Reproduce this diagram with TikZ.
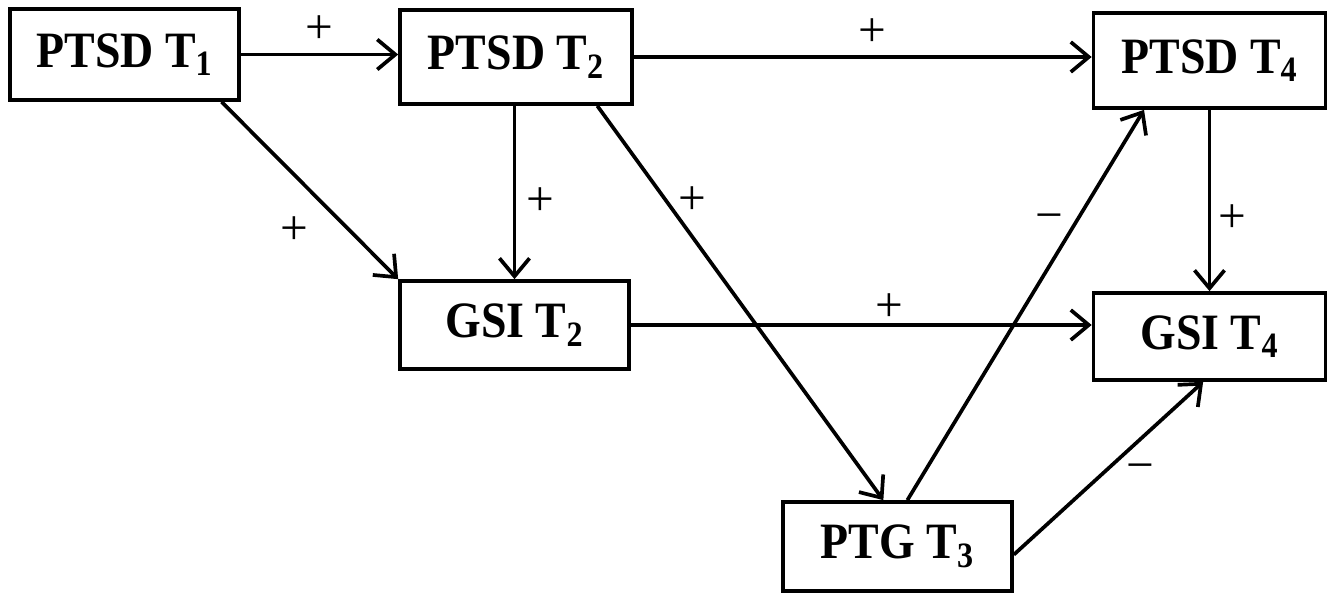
\documentclass[tikz,border=0pt]{standalone}
\usepackage{fontspec}
\setmainfont{Liberation Serif}
\newfontfamily\boxfont[FakeStretch=0.9]{Liberation Serif}
\usetikzlibrary{arrows.meta}
\tikzset{
box/.style={draw, line width=2.1pt, inner sep=0pt, font=\boxfont\fontsize{29}{31}\selectfont\bfseries},
link/.style={line width=2.1pt, -{Straight Barb[length=3.6mm,width=6mm]}},
sgn/.style={inner sep=3pt, font=\fontsize{28}{30}\selectfont}
}
\begin{document}
\begin{tikzpicture}

                \useasboundingbox (0,0) rectangle (26.56,-11.86);

                \node[box, minimum width=4.58cm, minimum height=1.82cm] (ptsdA) at (2.49,-1.09) {PTSD T\textsubscript{1}};
                \node[box, minimum width=4.64cm, minimum height=1.88cm] (ptsdB) at (10.32,-1.14) {PTSD T\textsubscript{2}};
                \node[box, minimum width=4.64cm, minimum height=1.90cm] (ptsdD) at (24.19,-1.21) {PTSD T\textsubscript{4}};
                \node[box, minimum width=4.58cm, minimum height=1.76cm] (gsiB) at (10.29,-6.50) {GSI T\textsubscript{2}};
                \node[box, minimum width=4.64cm, minimum height=1.74cm] (gsiD) at (24.19,-6.73) {GSI T\textsubscript{4}};
                \node[box, minimum width=4.58cm, minimum height=1.78cm] (ptgC) at (17.95,-10.93) {PTG T\textsubscript{3}};

                \draw[link] (ptsdA.east) -- (ptsdA.east -| ptsdB.west) node[sgn, midway, above=2pt] {+};
                \draw[link] (ptsdB.east) -- (ptsdB.east -| ptsdD.west) node[sgn, pos=0.52, above=2pt] {+};
                \draw[link] (ptsdA.-26) -- (gsiB.north west) node[sgn, pos=0.57, below left=4pt] {+};
                \draw[link] (gsiB.north |- ptsdB.south) -- (gsiB.north) node[sgn, pos=0.55, right=3pt] {+};
                \draw[link] (ptsdB.-31) -- (ptgC.107) node[sgn, pos=0.24, right=3pt] {+};
                \draw[link] (ptgC.78) -- (ptsdD.-143) node[sgn, pos=0.71, left=3pt] {−};
                \draw[link] (gsiB.east) -- (gsiB.east -| gsiD.west) node[sgn, pos=0.56, above=-2pt] {+};
                \draw[link] (ptsdD.south) -- (ptsdD.south |- gsiD.north) node[sgn, pos=0.6, right=1pt] {+};
                \draw[link] (ptgC.-4) -- (gsiD.-98) node[sgn, pos=0.67, below=10pt] {−};

            \end{tikzpicture}
\end{document}
